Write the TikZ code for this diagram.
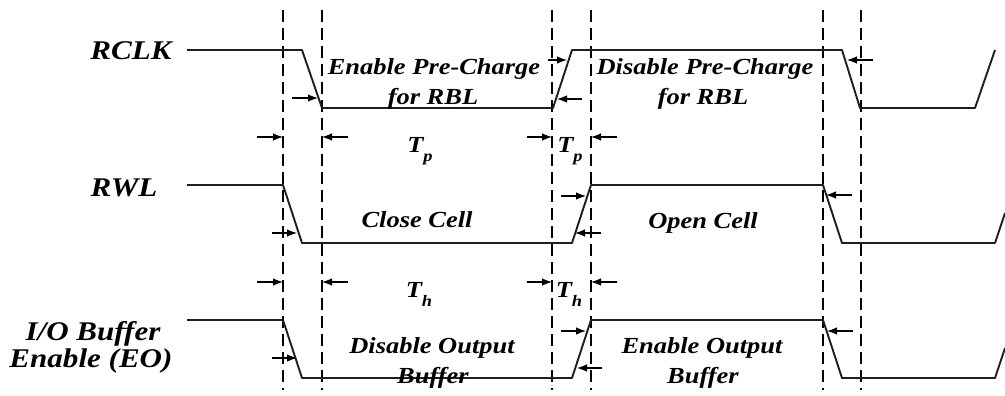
\documentclass[tikz,border=0pt]{standalone}
\usepackage{fontspec}
\setmainfont{Liberation Serif}[FakeStretch=1.15]
\usepackage{tikz}
\usetikzlibrary{arrows.meta,calc}
\definecolor{traceBlack}{RGB}{30, 30, 30}
\newcommand{\sigfont}{\fontsize{27}{29}\selectfont\bfseries\itshape}
\newcommand{\phasefont}{\fontsize{23}{25}\selectfont\bfseries\itshape}
\newcommand{\tsub}[1]{T\raisebox{-9pt}{\fontsize{16}{16}\selectfont #1}}

\begin{document}
\begin{tikzpicture}[x=1pt,y=-1pt,
    wave/.style={traceBlack,line width=1.9pt,line join=round},
    guide/.style={black,line width=1.4pt,dash pattern=on 12pt off 6pt},
    tick/.style={black,line width=1.2pt,-{Latex[length=10pt,width=7.5pt]}},
    signame/.style={font=\sigfont,anchor=base},
    phase/.style={font=\phasefont,anchor=base}]
    \useasboundingbox (0,0) rectangle (1005,396);

    % Dashed timing guides
    \foreach \gx in {283,322,552,591,823,861}
        \draw[guide] (\gx,10) -- (\gx,390);

    % Signal names
    \node[signame] (rclk) at (131,60) {RCLK};
    \node[signame] (rwl) at (124,196) {RWL};
    \node[signame] (iobuf) at (93,340) {I/O Buffer};
    \node[signame] (ioen) at (91,367) {Enable (EO)};

    % RCLK waveform
    \draw[wave] (187,50) -- (302,50) -- (322,108) -- (553,108) -- (572,50)
        -- (842,50) -- (860,108) -- (975,108) -- (995,50);
    \node[phase] (prechg) at (434,75) {Enable Pre-Charge};
    \node[phase] (prechgb) at (433,104) {for RBL};
    \node[phase] (noprechg) at (705,75) {Disable Pre-Charge};
    \node[phase] (noprechgb) at (703,104) {for RBL};
    \draw[tick] (292,98) -- (318,98);
    \draw[tick] (548,60) -- (567,60);
    \draw[tick] (582,99) -- (557,99);
    \draw[tick] (873,60) -- (847,60);

    % Tp markers
    \draw[tick] (257,137) -- (283,137);
    \draw[tick] (348,137) -- (322,137);
    \draw[tick] (527,137) -- (552,137);
    \draw[tick] (617,137) -- (591,137);
    \node[phase] (tpa) at (420,153) {\tsub{p}};
    \node[phase] (tpb) at (570,153) {\tsub{p}};

    % RWL waveform
    \draw[wave] (187,185) -- (283,185) -- (302,243) -- (572,243) -- (591,185)
        -- (823,185) -- (842,243) -- (995,243) -- (1005,213);
    \node[phase] (close) at (417,227) {Close Cell};
    \node[phase] (open) at (703,228) {Open Cell};
    \draw[tick] (272,233) -- (297,233);
    \draw[tick] (561,196) -- (586,196);
    \draw[tick] (601,233) -- (575,233);
    \draw[tick] (852,195) -- (826,195);

    % Th markers
    \draw[tick] (257,282) -- (283,282);
    \draw[tick] (348,282) -- (322,282);
    \draw[tick] (527,282) -- (552,282);
    \draw[tick] (617,282) -- (591,282);
    \node[phase] (tha) at (419,297) {\tsub{h}};
    \node[phase] (thb) at (569,297) {\tsub{h}};

    % I/O buffer enable waveform
    \draw[wave] (187,320) -- (283,320) -- (302,378) -- (572,378) -- (591,320)
        -- (823,320) -- (842,378) -- (995,378) -- (1005,348);
    \node[phase] (dis) at (432,353) {Disable Output};
    \node[phase] (disb) at (433,383) {Buffer};
    \node[phase] (en) at (702,353) {Enable Output};
    \node[phase] (enb) at (703,383) {Buffer};
    \draw[tick] (272,358) -- (297,358);
    \draw[tick] (561,331) -- (586,331);
    \draw[tick] (602,368) -- (577,368);
    \draw[tick] (853,331) -- (827,331);
\end{tikzpicture}
\end{document}
